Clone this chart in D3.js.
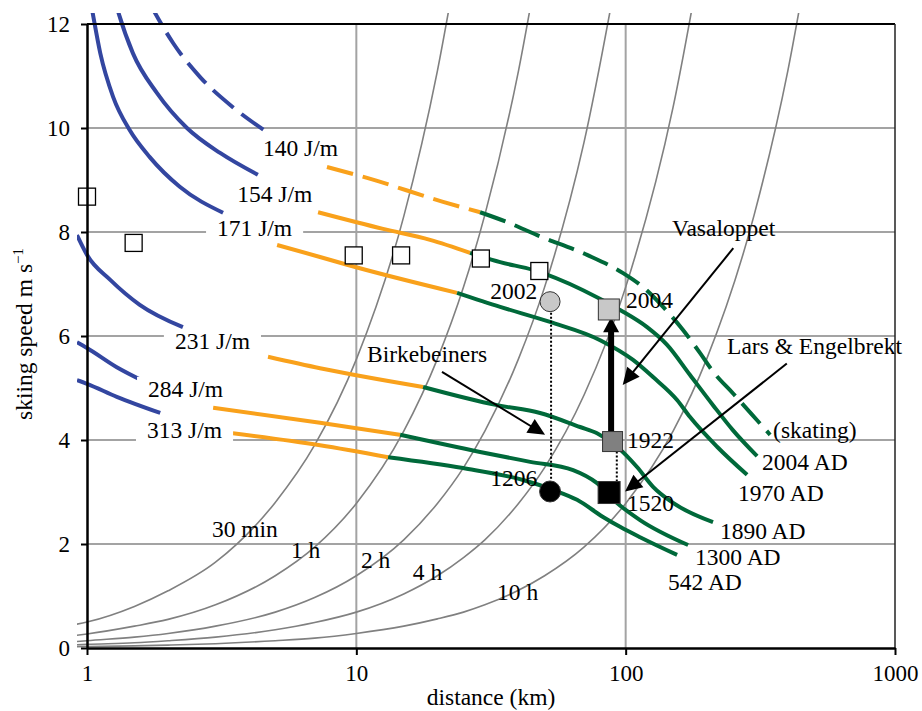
<!DOCTYPE html>
<html><head><meta charset="utf-8">
<script src="https://cdn.jsdelivr.net/npm/d3@7"></script>
<style>
body{margin:0;background:#fff}
svg{display:block}
text{font-family:"Liberation Serif","Times New Roman",serif;fill:#000}
</style>
</head><body>
<svg id="chart" width="922" height="711"></svg>
<script>
// ---------------- data ----------------
const xTickValues = [1, 10, 100, 1000];
const yTickValues = [0, 2, 4, 6, 8, 10, 12];
const gridX = [10, 100];
const gridY = [2, 4, 6, 8, 10];

// isochrones (distance km, speed m/s)
const isoDist = [0.9, 1, 1.5, 2, 3, 5, 7, 10, 15, 20, 25, 30, 40, 50, 70, 100, 150, 200, 300, 400, 500];
const iso30min = [0.45, 0.5, 0.8, 1.1, 1.65, 2.8, 3.9, 5.55, 8.3, 11.1, 13.9];
const iso1h    = [0.24, 0.27, 0.42, 0.55, 0.83, 1.39, 1.94, 2.78, 4.17, 5.56, 6.94, 8.33, 11.1, 13.9];
const iso2h    = [0.12, 0.14, 0.21, 0.28, 0.42, 0.69, 0.97, 1.39, 2.08, 2.78, 3.47, 4.17, 5.56, 6.94, 9.72, 13.9];
const iso4h    = [0.06, 0.07, 0.1, 0.14, 0.21, 0.35, 0.49, 0.69, 1.04, 1.39, 1.74, 2.08, 2.78, 3.47, 4.86, 6.94, 10.4, 13.9];
const iso10h   = [0.025, 0.028, 0.04, 0.056, 0.083, 0.14, 0.19, 0.28, 0.42, 0.56, 0.69, 0.83, 1.11, 1.39, 1.94, 2.78, 4.17, 5.56, 8.33, 11.1, 13.9];
const isoLabels = ["30 min", "1 h", "2 h", "4 h", "10 h"];
const isoLabelPos = [[2.91, 2.13], [5.72, 1.73], [10.4, 1.54], [16.2, 1.31], [33.3, 0.92]];

// energy-cost curves: [distance km, speed m/s]
const blue140 = [[1.69,12.45],[1.79,12.21],[2.09,11.63],[2.63,10.98],[3.48,10.40],[4.66,9.92]];
const blue154 = [[1.27,12.45],[1.31,12.21],[1.48,11.44],[1.82,10.67],[2.35,10.0],[3.12,9.52],[4.31,9.10]];
const blue171 = [[1.03,12.45],[1.05,12.21],[1.12,11.44],[1.25,10.60],[1.44,9.96],[1.71,9.44],[2.21,8.87],[3.20,8.37]];
const blue231 = [[0.918,7.94],[1.0,7.56],[1.22,7.08],[1.57,6.60],[2.27,6.17]];
const blue284 = [[0.918,5.88],[1.0,5.77],[1.29,5.40],[1.64,5.12]];
const blue313 = [[0.918,5.15],[1.0,5.08],[1.29,4.83],[1.87,4.52]];

const orange140 = [[7.78,9.25],[10.96,9.04],[20.99,8.58],[28.8,8.38]];
const orange154 = [[7.21,8.38],[12.57,8.06],[18.78,7.85],[26.44,7.60]];
const orange171 = [[5.08,7.75],[7.33,7.52],[9.24,7.37],[23.66,6.83]];
const orange231 = [[4.70,5.60],[7.33,5.38],[17.69,5.02]];
const orange284 = [[2.94,4.62],[7.33,4.33],[14.54,4.10]];
const orange313 = [[3.48,4.13],[7.33,3.90],[13.12,3.67]];

const green140 = [[28.8,8.38],[36.3,8.19],[46.9,7.94],[71.9,7.56],[97.8,7.21],[116,6.94],[137.7,6.56],[163,6.12],[189,5.67],[210,5.33],[252,4.88],[307.6,4.38],[343.8,4.10]];
const green154 = [[26.44,7.60],[34.2,7.42],[45.3,7.27],[69.5,6.88],[95.3,6.50],[120.1,6.17],[142.5,5.83],[173.4,5.25],[211,4.67],[250,4.19],[307.6,3.69]];
const green171 = [[23.66,6.83],[34.2,6.56],[52.4,6.27],[80.4,5.92],[106.5,5.54],[126.4,5.21],[155.2,4.77],[173.4,4.44],[218.5,3.87],[282.4,3.33]];
const green231 = [[17.69,5.02],[33.3,4.67],[48.1,4.52],[67.7,4.25],[78.3,4.13],[92.9,3.87],[110.2,3.48],[126.4,3.10],[150,2.79],[211,2.42]];
const green284 = [[14.54,4.10],[28.8,3.77],[44.2,3.58],[63.8,3.42],[78.3,3.17],[92.9,2.79],[113.1,2.46],[170.5,1.98]];
const green313 = [[13.12,3.67],[24.9,3.46],[41.6,3.23],[53.8,3.04],[66.0,2.85],[82.4,2.52],[95.3,2.33],[113.1,2.13],[155.2,1.79]];

const energyLabels = ["140 J/m", "154 J/m", "171 J/m", "231 J/m", "284 J/m", "313 J/m"];
const energyLabelPos = [[4.50, 9.46], [3.61, 8.58], [3.04, 7.92], [2.12, 5.75], [1.685, 4.83], [1.67, 4.04]];
const eraLabels = ["(skating)", "2004 AD", "1970 AD", "1890 AD", "1300 AD", "542 AD"];
const eraLabelPos = [[352.7, 4.04], [321, 3.42], [261.5, 2.83], [224, 2.10], [181, 1.59], [143.7, 1.11]];

// world-record open squares
const recordDist  = [1, 1.49, 9.78, 14.66, 29.0, 47.8];
const recordSpeed = [8.68, 7.79, 7.55, 7.55, 7.49, 7.25];

// historical races
const raceYears = ["2002", "1206", "2004", "1922", "1520"];
const raceDist  = [52.4, 52.4, 86.6, 89.4, 86.8];
const raceSpeed = [6.66, 3.01, 6.51, 3.97, 2.99];
const raceYearLabelPos = [[31.4, 6.71], [31.4, 3.12], [100.3, 6.54], [101.2, 3.85], [101.2, 2.63]];

// annotations
const noteTexts = ["Birkebeiners", "Vasaloppet", "Lars & Engelbrekt"];
const notePos = [[10.96, 5.50], [148.7, 7.92], [238, 5.65]];
const noteArrowFrom = [[20.8, 5.31], [251, 7.69], [396.6, 5.47]];
const noteArrowTo   = [[50.2, 4.10], [97.5, 5.06], [99.5, 3.01]];

// ---------------- drawing ----------------
const svg = d3.select("#chart");
const W = 922, H = 711;
const x = d3.scaleLog().domain([1, 1000]).range([87, 895]);
const y = d3.scaleLinear().domain([0, 12]).range([648, 24]);

const BLUE = "#3346a0", ORANGE = "#f9a11b", GREEN = "#00693a";
const FONT = 23.5, TICKFONT = 23;

svg.append("rect").attr("width", W).attr("height", H).attr("fill", "#fff");
const defs = svg.append("defs");
defs.append("clipPath").attr("id", "clip").append("rect")
  .attr("x", 77).attr("y", 13).attr("width", 818).attr("height", 637);

// gridlines
const grid = svg.append("g");
grid.selectAll("line.gy").data(gridY).join("line")
  .attr("x1", x(1)).attr("x2", x(1000)).attr("y1", d => y(d)).attr("y2", d => y(d))
  .attr("stroke", "#a3a3a3").attr("stroke-width", 2);
grid.selectAll("line.gx").data(gridX).join("line")
  .attr("y1", y(0)).attr("y2", y(12)).attr("x1", d => x(d)).attr("x2", d => x(d))
  .attr("stroke", "#a3a3a3").attr("stroke-width", 2);

const plot = svg.append("g").attr("clip-path", "url(#clip)");
const line = d3.line().x(d => x(d[0])).y(d => y(d[1])).curve(d3.curveMonotoneX);

// isochrones
[iso30min, iso1h, iso2h, iso4h, iso10h].forEach(vals => {
  const pts = vals.map((v, i) => [isoDist[i], v]);
  plot.append("path").attr("d", line(pts)).attr("fill", "none")
    .attr("stroke", "#808080").attr("stroke-width", 1.6);
});

// energy curves
const curveSets = [
  [blue140, orange140, green140, true],
  [blue154, orange154, green154, false],
  [blue171, orange171, green171, false],
  [blue231, orange231, green231, false],
  [blue284, orange284, green284, false],
  [blue313, orange313, green313, false]
];
curveSets.forEach(([b, o, g, dashed]) => {
  [[b, BLUE], [o, ORANGE], [g, GREEN]].forEach(([pts, col]) => {
    plot.append("path").attr("d", line(pts)).attr("fill", "none")
      .attr("stroke", col).attr("stroke-width", 4)
      .attr("stroke-dasharray", dashed ? "27,10" : null);
  });
});

// text helper
function label(g, txt, pos, anchor, box) {
  const t = g.append("text").attr("x", x(pos[0])).attr("y", y(pos[1]))
    .attr("font-size", FONT).attr("text-anchor", anchor || "start").text(txt);
  if (box) {
    const bb = t.node().getBBox();
    g.insert("rect", () => t.node())
      .attr("x", bb.x - 11).attr("y", bb.y + 1).attr("width", bb.width + 22).attr("height", bb.height - 2)
      .attr("fill", "#fff");
  }
  return t;
}

const labels = svg.append("g");
energyLabels.forEach((t, i) => label(labels, t, energyLabelPos[i], "start", true));
eraLabels.forEach((t, i) => label(labels, t, eraLabelPos[i]));
isoLabels.forEach((t, i) => label(labels, t, isoLabelPos[i]));
noteTexts.forEach((t, i) => label(labels, t, notePos[i]));
raceYears.forEach((t, i) => label(labels, t, raceYearLabelPos[i]));

// arrows
function arrow(g, p1, p2, w, hl, hw) {
  const x1 = x(p1[0]), y1 = y(p1[1]), x2 = x(p2[0]), y2 = y(p2[1]);
  const dx = x2 - x1, dy = y2 - y1, L = Math.hypot(dx, dy);
  const ux = dx / L, uy = dy / L;
  const bx = x2 - ux * hl, by = y2 - uy * hl;
  g.append("line").attr("x1", x1).attr("y1", y1).attr("x2", bx + ux * 2).attr("y2", by + uy * 2)
    .attr("stroke", "#000").attr("stroke-width", w);
  g.append("polygon").attr("points", [
    [x2, y2], [bx - uy * hw, by + ux * hw], [bx + uy * hw, by - ux * hw]
  ].map(p => p.join(",")).join(" ")).attr("fill", "#000");
}

const marks = svg.append("g");
// dotted connectors
marks.append("line").attr("x1", x(raceDist[0]) + 1).attr("x2", x(raceDist[0]) + 1)
  .attr("y1", y(raceSpeed[0]) + 11).attr("y2", y(raceSpeed[1]) - 11)
  .attr("stroke", "#000").attr("stroke-width", 2).attr("stroke-dasharray", "2,2");
marks.append("line").attr("x1", x(92.7)).attr("x2", x(92.7))
  .attr("y1", y(raceSpeed[3]) + 10).attr("y2", y(raceSpeed[4]) - 11)
  .attr("stroke", "#000").attr("stroke-width", 2).attr("stroke-dasharray", "2,2");

// thick arrow 1922 -> 2004
arrow(marks, [88.3, 4.13], [88.3, 6.36], 6, 15, 8);

noteTexts.forEach((t, i) => arrow(marks, noteArrowFrom[i], noteArrowTo[i], 2, 17, 8));

// record squares
marks.selectAll("rect.rec").data(recordDist).join("rect")
  .attr("x", (d, i) => x(d) - 8.5).attr("y", (d, i) => y(recordSpeed[i]) - 8.5)
  .attr("width", 17).attr("height", 17)
  .attr("fill", "#fff").attr("stroke", "#000").attr("stroke-width", 1.3);

// race markers
const raceShapes = [["circle", "#c8c8c8", 10], ["circle", "#000", 10.5], ["square", "#c8c8c8", 21], ["square", "#808080", 20], ["square", "#000", 22]];
raceShapes.forEach(([shape, fill, s], i) => {
  const cx = x(raceDist[i]), cy = y(raceSpeed[i]);
  if (shape === "circle") {
    marks.append("circle").attr("cx", cx).attr("cy", cy).attr("r", s)
      .attr("fill", fill).attr("stroke", "#333").attr("stroke-width", 1);
  } else {
    marks.append("rect").attr("x", cx - s / 2).attr("y", cy - s / 2).attr("width", s).attr("height", s)
      .attr("fill", fill).attr("stroke", "#333").attr("stroke-width", 1);
  }
});

// frame (top, right)
svg.append("line").attr("x1", x(1)).attr("x2", x(1000)).attr("y1", y(12)).attr("y2", y(12))
  .attr("stroke", "#000").attr("stroke-width", 2);
svg.append("line").attr("x1", x(1000)).attr("x2", x(1000)).attr("y1", y(12)).attr("y2", y(0))
  .attr("stroke", "#222").attr("stroke-width", 1.5);

// axes
const yAxis = svg.append("g").attr("transform", `translate(${x(1)},0)`)
  .call(d3.axisLeft(y).tickValues(yTickValues).tickFormat(d3.format("d")).tickSize(6).tickPadding(11).tickSizeOuter(0));
const xAxis = svg.append("g").attr("transform", `translate(0,${y(0)})`)
  .call(d3.axisBottom(x).tickValues(xTickValues).tickFormat(d3.format("d")).tickSize(7).tickPadding(10).tickSizeOuter(0));
[yAxis, xAxis].forEach(a => {
  a.selectAll("path.domain").attr("stroke", "#000").attr("stroke-width", 2.5);
  a.selectAll(".tick line").attr("stroke", "#000").attr("stroke-width", 2);
  a.selectAll("text").attr("font-size", TICKFONT).attr("font-family", "Liberation Serif").attr("fill", "#000");
});

// axis titles
svg.append("text").attr("x", 491).attr("y", 705).attr("text-anchor", "middle")
  .attr("font-size", FONT).text("distance (km)");
const yt = svg.append("text").attr("transform", "translate(32,334) rotate(-90)")
  .attr("text-anchor", "middle").attr("font-size", FONT);
yt.append("tspan").text("skiing speed m s");
yt.append("tspan").attr("font-size", 15).attr("dy", -9).text("\u22121");
</script>
</body></html>
